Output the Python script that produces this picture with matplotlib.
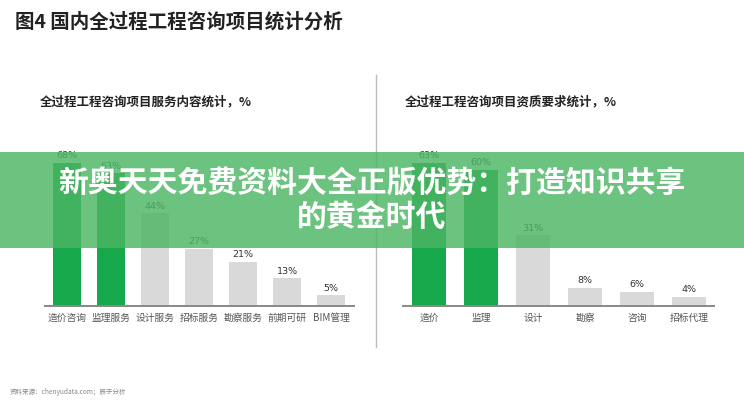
import matplotlib
matplotlib.use('Agg')
import matplotlib.pyplot as plt
from matplotlib.patches import Rectangle

plt.rcParams['font.family'] = ['Noto Sans CJK SC', 'DejaVu Sans']

# data
svc_labels = ['造价咨询', '监理服务', '设计服务', '招标服务', '勘察服务', '前期可研', 'BIM管理']
svc_values = [68, 63, 44, 27, 21, 13, 5]
svc_colors = ['#16a84a', '#16a84a', '#d9d9d9', '#d9d9d9', '#d9d9d9', '#d9d9d9', '#d9d9d9']

qual_labels = ['造价', '监理', '设计', '勘察', '咨询', '招标代理']
qual_values = [63, 60, 31, 8, 6, 4]
qual_colors = ['#16a84a', '#16a84a', '#d9d9d9', '#d9d9d9', '#d9d9d9', '#d9d9d9']

W, H = 744, 400
fig = plt.figure(figsize=(7.44, 4.0), dpi=100)


def px_axes(x0, y0, x1, y1):
    # pixel box (top-left origin) -> figure axes
    return fig.add_axes([x0 / W, 1 - y1 / H, (x1 - x0) / W, (y1 - y0) / H])


def bar_panel(ax, labels, values, colors, width, ymax, xlim):
    xs = list(range(len(values)))
    ax.bar(xs, values, width=width, color=colors, zorder=2)
    for x, v in zip(xs, values):
        ax.text(x, v + 1.2, '{}%'.format(v), ha='center', va='bottom',
                fontsize=6.8, color='#333333', family=['DejaVu Sans'])
    ax.set_xlim(*xlim)
    ax.set_ylim(0, ymax)
    ax.set_xticks(xs)
    ax.set_xticklabels(labels, fontsize=7, color='#555555')
    ax.tick_params(axis='x', length=0, pad=5)
    ax.set_yticks([])
    for s in ['top', 'right', 'left']:
        ax.spines[s].set_visible(False)
    ax.spines['bottom'].set_color('#888888')
    ax.spines['bottom'].set_linewidth(1.4)
    ax.patch.set_alpha(0)


ax1 = px_axes(45, 140, 354, 305.7)
bar_panel(ax1, svc_labels, svc_values, svc_colors, 0.64, 165.7 / 2.1, (-0.5, 6.52))

ax2 = px_axes(403, 140, 714, 305.7)
bar_panel(ax2, qual_labels, qual_values, qual_colors, 0.65, 165.7 / 2.27, (-0.5, 5.48))

# titles
fig.text(15 / W, 1 - 22 / H, '图4 国内全过程工程咨询项目统计分析', fontsize=14,
         fontweight='bold', color='#222222', va='center')
fig.text(40 / W, 1 - 102 / H, '全过程工程咨询项目服务内容统计，%', fontsize=9,
         fontweight='bold', color='#222222', va='center')
fig.text(405 / W, 1 - 102 / H, '全过程工程咨询项目资质要求统计，%', fontsize=9,
         fontweight='bold', color='#222222', va='center')

# divider
fig.add_artist(plt.Line2D([376 / W, 376 / W], [1 - 75 / H, 1 - 347 / H],
                          color='#bbbbbb', lw=1.0))

# source
fig.text(10 / W, 1 - 392 / H, '资料来源：chenyudata.com；辰于分析', fontsize=4.7,
         color='#888888', va='center')

# overlay banner
fig.add_artist(Rectangle((0, 1 - 248 / H), 1, 96 / H, transform=fig.transFigure,
                         facecolor='#4cb563', alpha=0.82, edgecolor='none', zorder=5))
fig.text(0.5, 1 - 184 / H, '新奥天天免费资料大全正版优势：打造知识共享', fontsize=21.5,
         fontweight='heavy', color='white', ha='center', va='center', zorder=6)
fig.text(0.5, 1 - 218 / H, '的黄金时代', fontsize=21.5,
         fontweight='heavy', color='white', ha='center', va='center', zorder=6)

fig.savefig('out.png', dpi=100)
